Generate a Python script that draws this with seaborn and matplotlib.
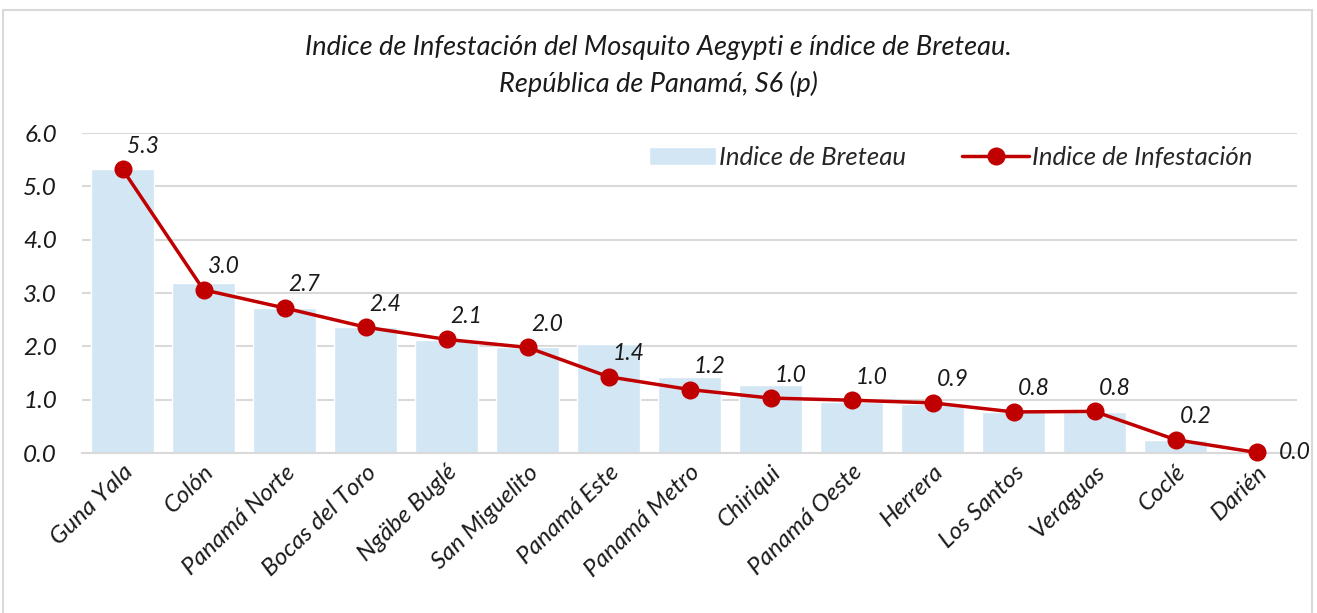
import numpy as np
import matplotlib
matplotlib.use("Agg")
import matplotlib.pyplot as plt
import seaborn as sns
from matplotlib.patches import Rectangle
from matplotlib.ticker import FormatStrFormatter

# --- Data ---
provincias = ["Guna Yala", "Colón", "Panamá Norte", "Bocas del Toro", "Ngäbe Buglé",
              "San Miguelito", "Panamá Este", "Panamá Metro", "Chiriqui", "Panamá Oeste",
              "Herrera", "Los Santos", "Veraguas", "Coclé", "Darién"]
breteau = [5.32, 3.18, 2.71, 2.36, 2.12, 1.99, 2.04, 1.42, 1.27, 0.95, 0.91, 0.77, 0.77, 0.24, 0.0]
infestacion = [5.32, 3.06, 2.72, 2.36, 2.13, 1.98, 1.43, 1.19, 1.03, 0.99, 0.94, 0.77, 0.78, 0.25, 0.01]
infest_labels = ["5.3", "3.0", "2.7", "2.4", "2.1", "2.0", "1.4", "1.2", "1.0", "1.0",
                 "0.9", "0.8", "0.8", "0.2", "0.0"]

sns.set_theme(style="white")
plt.rcParams['font.family'] = ['Lato', 'DejaVu Sans']
plt.rcParams['font.style'] = 'italic'

fig = plt.figure(figsize=(13.17, 6.13), dpi=100)
ax = fig.add_axes([82/1317, 1 - 453/613, 1215/1317, 320/613])

# outer border
fig.patches.append(Rectangle((3/1317, -0.05), 1309/1317, 1.05 - 10/613, transform=fig.transFigure,
                             fill=False, edgecolor="#D9D9D9", linewidth=1.5))

# --- Bars ---
sns.barplot(x=provincias, y=breteau, color="#D2E6F4", saturation=1, width=0.77,
            label="Indice de Breteau", ax=ax)

# --- Line ---
x_pos = np.arange(len(provincias))
sns.lineplot(x=x_pos, y=infestacion, color="#C00000", linewidth=2.5, marker="o",
             markersize=13, markeredgewidth=0, label="Indice de Infestación", ax=ax,
             clip_on=False, zorder=5)

for i, (v, lab) in enumerate(zip(infestacion, infest_labels)):
    if i == len(provincias) - 1:
        ax.annotate(lab, (i, v), xytext=(16, 0), textcoords="offset points",
                    ha="left", va="center", fontsize=16.5, style="italic", color="#1a1a1a")
    else:
        ax.annotate(lab, (i, v), xytext=(3, 9), textcoords="offset points",
                    ha="left", va="bottom", fontsize=16.5, style="italic", color="#1a1a1a")

# --- Axes styling ---
ax.set_xlim(-0.5, len(provincias) - 0.5)
ax.set_ylim(0, 6)
ax.set_yticks(np.arange(0, 6.1, 1.0))
ax.yaxis.set_major_formatter(FormatStrFormatter("%.1f"))
ax.grid(axis="y", color="#D9D9D9", linewidth=1.5)
ax.set_axisbelow(True)
for s in ["top", "right", "left"]:
    ax.spines[s].set_visible(False)
ax.spines["bottom"].set_color("#D9D9D9")
ax.spines["bottom"].set_linewidth(1.5)
ax.tick_params(axis="y", length=0, pad=18, labelsize=17.5, labelcolor="#1a1a1a")
ax.tick_params(axis="x", length=0, pad=6, labelsize=17.5, labelcolor="#1a1a1a")
plt.setp(ax.get_xticklabels(), rotation=44, ha="right", rotation_mode="anchor", style="italic")
plt.setp(ax.get_yticklabels(), style="italic")
ax.set_xlabel("")
ax.set_ylabel("")

handles, labels = ax.get_legend_handles_labels()
order = [labels.index("Indice de Breteau"), labels.index("Indice de Infestación")]
ax.legend([handles[k] for k in order], [labels[k] for k in order],
          loc="center right", bbox_to_anchor=(0.982, 0.925), ncol=2, frameon=False,
          handlelength=2.6, columnspacing=2.2, handletextpad=0.1,
          prop={"style": "italic", "size": 18.5})

fig.text(0.5, 1 - 47/613, "Indice de Infestación del Mosquito Aegypti e índice de Breteau.",
         ha="center", va="center", fontsize=19.5, style="italic", color="#1a1a1a")
fig.text(0.5, 1 - 84/613, "República de Panamá, S6 (p)",
         ha="center", va="center", fontsize=19.5, style="italic", color="#1a1a1a")

fig.savefig("out.png", dpi=100)
